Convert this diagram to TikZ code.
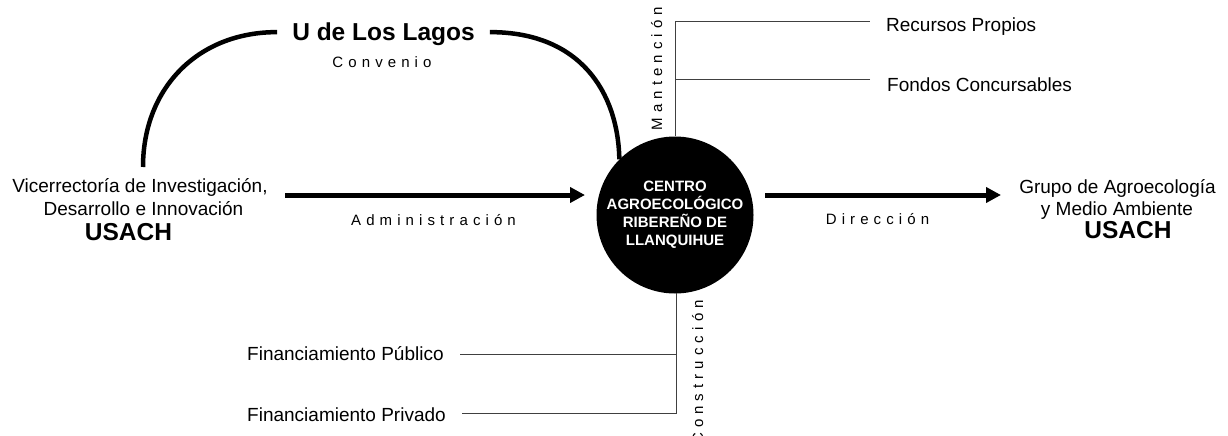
\documentclass[tikz,border=0pt]{standalone}
\usepackage{fontspec}
\setmainfont{Liberation Sans}
\newfontfamily\spaced[LetterSpace=34]{Liberation Sans}
\usetikzlibrary{arrows.meta,calc}
\begin{document}
\begin{tikzpicture}[x=1pt,y=-1pt,
  txt/.style={inner sep=0pt, font=\fontsize{19}{22}\selectfont},
  bigtxt/.style={inner sep=0pt, font=\bfseries\fontsize{24.5}{28}\selectfont},
  sptxt/.style={inner sep=0pt, font=\spaced\fontsize{15}{18}\selectfont},
  bigarrow/.style={line width=5pt, -{Triangle[length=15pt,width=15pt]}},
  thinline/.style={line width=1pt, draw=black!75},
  arcline/.style={line width=4.5pt}]
\useasboundingbox (0,0) rectangle (1228,436);

% central circle
\node[circle, fill=black, inner sep=0pt, minimum size=157pt, text=white,
      font=\bfseries\fontsize{15}{18}\selectfont, align=center] (c) at (675,215)
      {CENTRO\\AGROECOLÓGICO\\RIBEREÑO DE\\LLANQUIHUE};

% left block
\node[txt, anchor=base] (vri1) at (140,192) {Vicerrectoría de Investigación,};
\node[txt, anchor=base] (vri2) at (143.5,215) {Desarrollo e Innovación};
\node[bigtxt, anchor=base] (usach1) at (128.5,240) {USACH};

% right block
\node[txt, anchor=base] (gam1) at (1117.5,193) {Grupo de Agroecología};
\node[txt, anchor=base] (gam2) at (1117,215) {y Medio Ambiente};
\node[bigtxt, anchor=base] (usach2) at (1128,238) {USACH};

% top: U de Los Lagos
\node[bigtxt, anchor=base, inner xsep=15pt, text depth=0pt] (ulagos) at (383.5,41) {U de Los Lagos};
\node[sptxt, anchor=base] (conv) at (382,67) {Convenio};
\coordinate (arcL) at (143,167);
\draw[arcline] (arcL) .. controls (143,88) and (198,32) .. (ulagos.west);
\draw[arcline] (ulagos.east) .. controls (580,32) and (618,92) .. (c.135);

% arrows
\coordinate (aL) at (285,195);
\coordinate (aR) at (585,195);
\draw[bigarrow] (aL) -- (aR);
\node[sptxt, anchor=base] (adm) at (433.5,225) {Administración};
\coordinate (dL) at (765,195);
\coordinate (dR) at (1001,195);
\draw[bigarrow] (dL) -- (dR);
\node[sptxt, anchor=base] (dir) at (877.5,224) {Dirección};

% top funding
\coordinate (mtop) at (675,22);
\coordinate (mR) at (870,22);
\coordinate (mF) at (870,79);
\draw[thinline] (c.north) -- (mtop) -- (mR);
\draw[thinline] (mF) -- (mF -| mtop);
\node[txt, anchor=base west] (rp) at (886,32) {Recursos Propios};
\node[txt, anchor=base west] (fc) at (887,91) {Fondos Concursables};
\node[sptxt, anchor=base, rotate=90] (mant) at (662,68.5) {Mantención};

% bottom funding
\coordinate (cb) at (676.5,293);
\coordinate (bPr) at (676.5,413);
\coordinate (lPu) at (460,354);
\coordinate (lPr) at (462,413);
\draw[thinline] (cb) -- (bPr) -- (lPr);
\draw[thinline] (lPu) -- (lPu -| bPr);
\node[txt, anchor=base west] (fpu) at (247,360) {Financiamiento Público};
\node[txt, anchor=base west] (fpr) at (247,421) {Financiamiento Privado};
\node[sptxt, anchor=base, rotate=90] (cons) at (703,372) {Construcción};
\end{tikzpicture}
\end{document}
